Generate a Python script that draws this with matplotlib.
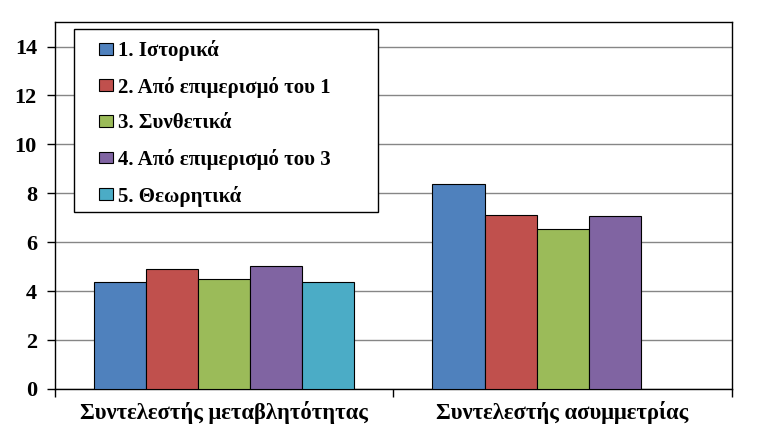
import matplotlib.pyplot as plt
from matplotlib.patches import Rectangle
import numpy as np

# Clustered bars: two coefficients, five data sources
categories = ["Συντελεστής μεταβλητότητας", "Συντελεστής ασυμμετρίας"]
series_names = [
    "1. Ιστορικά",
    "2. Από επιμερισμό του 1",
    "3. Συνθετικά",
    "4. Από επιμερισμό του 3",
    "5. Θεωρητικά",
]
historical = [4.36, 8.36]
disagg_1 = [4.89, 7.13]
synthetic = [4.48, 6.52]
disagg_3 = [5.01, 7.07]
theoretical = [4.36, np.nan]

colours = ["#4F81BD", "#C0504D", "#9BBB59", "#8064A2", "#4BACC6"]
all_series = [historical, disagg_1, synthetic, disagg_3, theoretical]

plt.rcParams["font.family"] = ["Liberation Serif", "DejaVu Serif"]
plt.rcParams["font.weight"] = "bold"

fig = plt.figure(figsize=(7.57, 4.41), dpi=100)
ax = fig.add_axes([0.0727, 0.118, 0.894, 0.832])

x = np.arange(len(categories))
width = 1 / 6.5  # Excel gap width 150%
for i, (vals, name) in enumerate(zip(all_series, series_names)):
    offset = (i - 2) * width
    ax.bar(x + offset, vals, width, color=colours[i], edgecolor="black",
           linewidth=0.8, label=name, zorder=3)

ax.set_xlim(-0.5, 1.5)
ax.set_ylim(0, 15)
ax.set_yticks(range(0, 15, 2))
ax.yaxis.grid(True, color="#868686", linewidth=1, zorder=0)
ax.set_axisbelow(True)

ax.set_xticks(x)
ax.set_xticklabels(categories, fontsize=16.3, fontweight="bold")
ax.set_xticks([-0.5, 0.5, 1.5], minor=True)
ax.tick_params(axis="x", which="major", length=0, pad=9)
ax.tick_params(axis="x", which="minor", length=6, width=1, direction="out")
ax.tick_params(axis="y", labelsize=16, length=6, width=1, direction="out", pad=7)
for lbl in ax.get_yticklabels():
    lbl.set_fontweight("bold")

for sp in ax.spines.values():
    sp.set_linewidth(1)
    sp.set_color("black")

# legend frame drawn separately so its padding matches the original box
box = Rectangle((0.028, 0.482), 0.449, 0.499, transform=ax.transAxes,
                facecolor="white", edgecolor="black", linewidth=1, zorder=4)
ax.add_patch(box)

leg = ax.legend(loc="upper left", bbox_to_anchor=(0.065, 0.951), borderaxespad=0,
                frameon=False, prop={"size": 15, "weight": "bold"},
                handlelength=0.65, handleheight=0.5, handletextpad=0.25,
                labelspacing=0.75, borderpad=0)
leg.set_zorder(5)
for h in leg.legend_handles:
    h.set_linewidth(0.8)

fig.savefig("out.png", dpi=100)
